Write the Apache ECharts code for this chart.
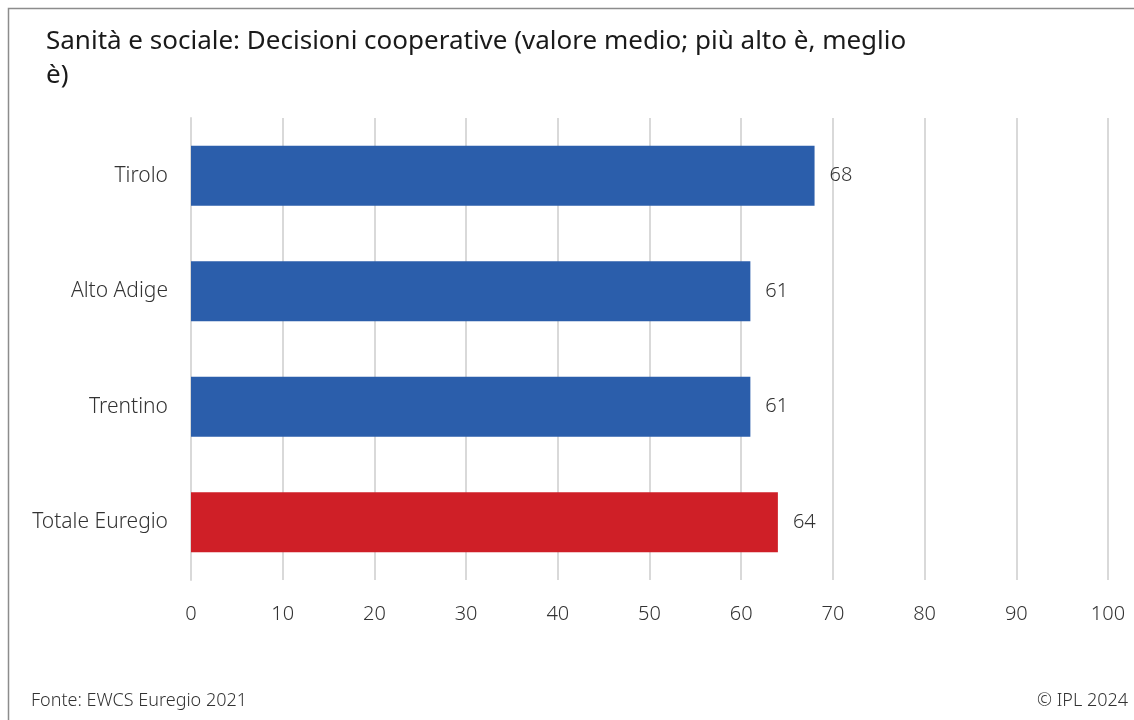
<!DOCTYPE html>
<html>
<head>
<meta charset="utf-8">
<script src="https://cdn.jsdelivr.net/npm/echarts@6/dist/echarts.min.js"></script>
<style>
  html, body { margin: 0; padding: 0; background: #fff; }
  #chart { width: 1134px; height: 720px; }
</style>
</head>
<body>
<div id="chart"></div>
<script>
// Regions, top to bottom as drawn
const categories = ['Tirolo', 'Alto Adige', 'Trentino', 'Totale Euregio'];
const values = [68, 61, 61, 64];
const barColors = ['#2b5eab', '#2b5eab', '#2b5eab', '#cf1f27'];
const xTicks = [0, 10, 20, 30, 40, 50, 60, 70, 80, 90, 100];

const titleText = 'Sanità e sociale: Decisioni cooperative (valore medio; più alto è, meglio\nè)';
const sourceText = 'Fonte: EWCS Euregio 2021';
const creditText = '© IPL 2024';

const FONT = '"Noto Sans", "Open Sans", sans-serif';

const chart = echarts.init(document.getElementById('chart'), null, { renderer: 'canvas' });

chart.setOption({
  backgroundColor: '#ffffff',
  animation: false,
  title: {
    text: titleText,
    left: 41,
    top: 20,
    textStyle: {
      fontFamily: FONT,
      fontSize: 26,
      fontWeight: 400,
      color: '#1a1a1a',
      lineHeight: 34
    }
  },
  graphic: [
    {
      type: 'polyline',
      shape: { points: [[8.5, 720], [8.5, 8.5], [1134, 8.5]] },
      style: { stroke: '#8c8c8c', lineWidth: 1.5, fill: null }
    },
    {
      type: 'text',
      left: 31,
      top: 692,
      style: { text: sourceText, font: '300 18px ' + FONT, fill: '#333' }
    },
    {
      type: 'text',
      right: 6,
      top: 692,
      style: { text: creditText, font: '300 18px ' + FONT, fill: '#333' }
    }
  ],
  grid: {
    left: 191,
    right: 26,
    top: 118,
    bottom: 140,
    containLabel: false
  },
  xAxis: {
    type: 'value',
    min: 0,
    max: 100,
    interval: 10,
    axisLine: { show: false },
    axisTick: { show: false },
    splitLine: { show: true, lineStyle: { color: '#d9d9d9', width: 2 } },
    axisLabel: {
      margin: 24,
      fontFamily: FONT,
      fontWeight: 300,
      fontSize: 20,
      color: '#333',
      formatter: v => xTicks.includes(v) ? String(v) : ''
    }
  },
  yAxis: {
    type: 'category',
    inverse: true,
    data: categories,
    axisLine: { show: true, lineStyle: { color: '#d9d9d9', width: 2 } },
    axisTick: { show: false },
    axisLabel: {
      margin: 23,
      fontFamily: FONT,
      fontWeight: 300,
      fontSize: 21,
      color: '#333'
    }
  },
  series: [{
    type: 'bar',
    data: values.map((v, i) => ({ value: v, itemStyle: { color: barColors[i] } })),
    barCategoryGap: '48%',
    label: {
      show: true,
      position: 'right',
      distance: 15,
      fontFamily: FONT,
      fontWeight: 300,
      fontSize: 20,
      color: '#333'
    }
  }]
});
</script>
</body>
</html>
